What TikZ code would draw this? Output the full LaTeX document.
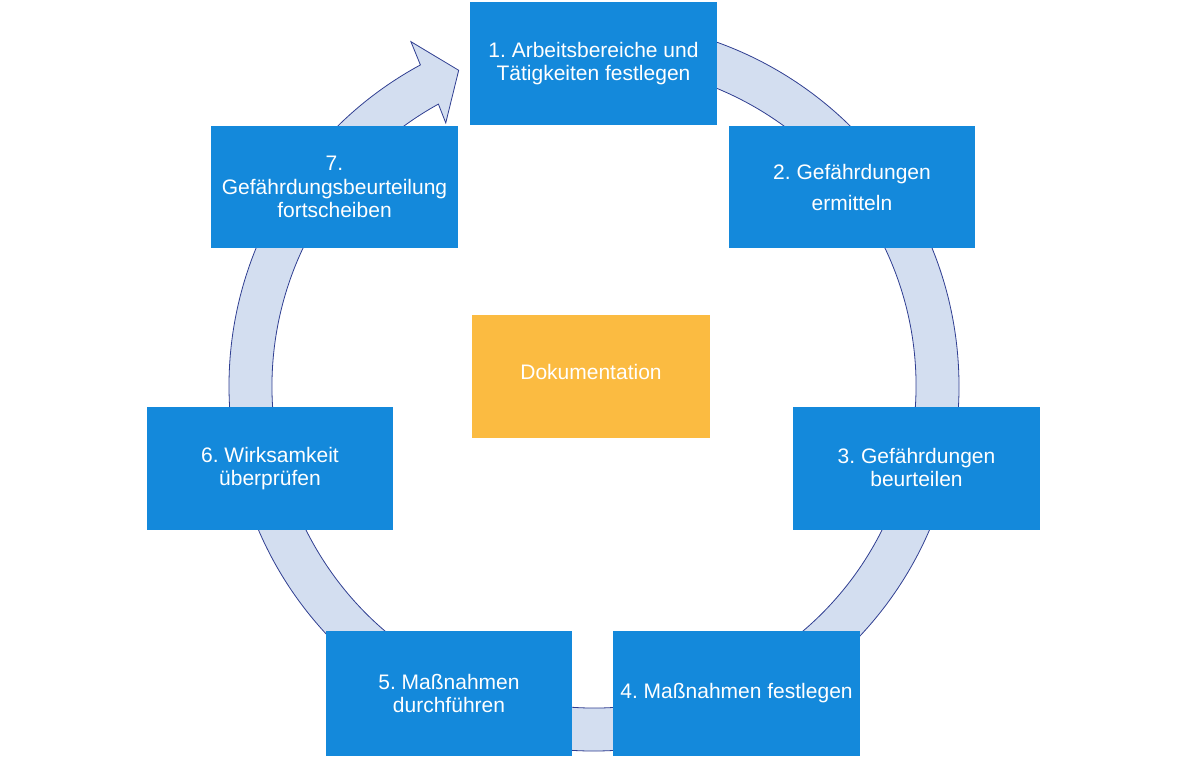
\documentclass[tikz,border=0pt]{standalone}
\usepackage{fontspec}
\setmainfont{Liberation Sans}
\usetikzlibrary{calc}
\definecolor{boxblue}{RGB}{20,137,219}
\definecolor{docorange}{RGB}{251,187,65}
\definecolor{ringfill}{RGB}{211,222,240}
\definecolor{ringline}{RGB}{47,62,145}
\frenchspacing
\begin{document}
\begin{tikzpicture}[x=1pt,y=1pt,
  stepbox/.style={rectangle,fill=boxblue,inner sep=0pt,minimum width=247pt,minimum height=123pt,
    text=white,align=center,font=\fontsize{21}{23.5}\selectfont},
  docbox/.style={rectangle,fill=docorange,inner sep=0pt,minimum width=238pt,minimum height=123pt,
    text=white,align=center,font=\fontsize{21}{23.5}\selectfont},
  ringarrow/.style={fill=ringfill,draw=ringline,line width=0.8pt,line join=miter}]
\useasboundingbox (0,0) rectangle (1186,756);
\coordinate (C) at (594,370);
% circular arrow
\draw[ringarrow] ($(C)+(95:365)$) arc[start angle=95,end angle=-241.6,radius=365]
  -- ($(C)+(-242:390)$) -- ($(C)+(-246.8:343.5)$) -- ($(C)+(-240.6:302)$)
  -- ($(C)+(-241.1:322)$) arc[start angle=-241.1,end angle=95,radius=322] -- cycle;
% boxes
\node[stepbox] (b1) at (593.5,692.5) {1. Arbeitsbereiche und\\Tätigkeiten festlegen};
\node[stepbox,minimum width=246pt,minimum height=122pt,font=\fontsize{21}{31}\selectfont] (b2) at (852,569) {2. Gefährdungen\\ermitteln};
\node[stepbox] (b3) at (916.5,287.5) {\raisebox{1pt}[\height][\depth]{3. Gefährdungen}\\\raisebox{1pt}[\height][\depth]{beurteilen}};
\node[stepbox,minimum height=125pt] (b4) at (736.5,62.5) {4. Maßnahmen festlegen};
\node[stepbox,minimum width=246pt,minimum height=125pt] (b5) at (449,62.5) {5. Maßnahmen\\durchführen};
\node[stepbox,minimum width=246pt] (b6) at (270,287.5) {6. Wirksamkeit\\überprüfen};
\node[stepbox,minimum height=122pt] (b7) at (334.5,569) {7.\\Gefährdungsbeurteilung\\fortscheiben};
\node[docbox] (doc) at (591,379.5) {\raisebox{5pt}[\height][\depth]{Dokumentation}};
\end{tikzpicture}
\end{document}
